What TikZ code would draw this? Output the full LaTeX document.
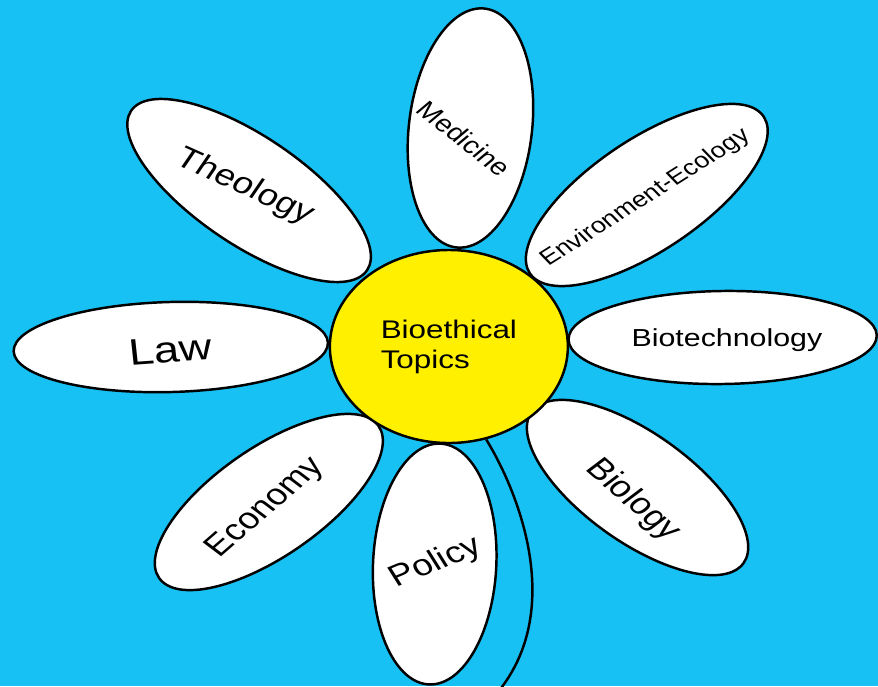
\documentclass[tikz,border=0pt]{standalone}
\usepackage{fontspec}
\setmainfont{Liberation Sans}
\usetikzlibrary{shapes.geometric}
\definecolor{skyblue}{RGB}{24,193,243}
\definecolor{sunyellow}{RGB}{255,240,0}
\tikzset{
  % --- Canh hoa ----------------------------------------------
  petal/.style={draw, ellipse, fill=white, line width=1.4pt, inner sep=0pt},
  ptext/.style={font=\fontsize{#1}{#1}\selectfont, inner sep=0pt, text=black},
  ptext/.default=17,
  % --- Nhuy hoa / cuong --------------------------------------
  core/.style={draw, circle, fill=sunyellow, line width=1.4pt, minimum size=3.86cm,
    align=left, font=\fontsize{14.5}{17}\selectfont, inner sep=0pt},
  stem/.style={line width=1.4pt}
}

\begin{document}
\begin{tikzpicture}[xscale=1.2331, transform shape]

  \useasboundingbox (0,0) rectangle (14.24,13.72);
  \fill[skyblue] (0,0) rectangle (14.24,13.72);

  % --- Cuong hoa ----------------------------------------------
  \coordinate (stemend) at (8.12,-0.05);
  \node[core, draw=none, fill=none] (stembase) at (7.28,6.79) {};
  \draw[stem] (stembase.-72) .. controls (8.4,3.9) and (9.15,1.6) .. (stemend);

  % --- Canh hoa -----------------------------------------------
  \node[petal, minimum width=4.8cm, minimum height=2.0cm, rotate=85] (medicine) at (7.63,11.16) {};
  \node[petal, minimum width=4.94cm, minimum height=2.06cm, rotate=42] (environ) at (10.49,9.82) {};
  \node[petal, minimum width=5.0cm, minimum height=1.86cm, rotate=1] (biotech) at (11.72,6.97) {};
  \node[petal, minimum width=4.6cm, minimum height=2.0cm, rotate=-44] (biology) at (10.34,3.97) {};
  \node[petal, minimum width=4.82cm, minimum height=2.0cm, rotate=88] (policy) at (7.05,2.44) {};
  \node[petal, minimum width=4.7cm, minimum height=2.0cm, rotate=43] (economy) at (4.36,3.68) {};
  \node[petal, minimum width=5.1cm, minimum height=1.8cm, rotate=2] (law) at (2.77,6.78) {};
  \node[petal, minimum width=5.0cm, minimum height=2.0cm, rotate=-42] (theology) at (4.04,9.91) {};

  % --- Chu tren canh ------------------------------------------
  \node[ptext=13.5, rotate=-44] (medicinetxt) at (7.53,10.95) {Medicine};
  \node[ptext=12.5, rotate=38] (environtxt) at (10.47,9.76) {Environment-Ecology};
  \node[ptext=14, rotate=0] (biotechtxt) at (11.79,6.92) {Biotechnology};
  \node[ptext=17, rotate=-47] (biologytxt) at (10.26,3.72) {Biology};
  \node[ptext=17, rotate=27] (policytxt) at (7.07,2.46) {Policy};
  \node[ptext=17, rotate=47] (economytxt) at (4.31,3.56) {Economy};
  \node[ptext=21, rotate=5] (lawtxt) at (2.77,6.72) {Law};
  \node[ptext=17, rotate=-29] (theologytxt) at (3.97,9.98) {Theology};

  % --- Nhuy hoa ------------------------------------------------
  \node[core] (core) at (7.28,6.79) {Bioethical\\Topics};

\end{tikzpicture}
\end{document}
